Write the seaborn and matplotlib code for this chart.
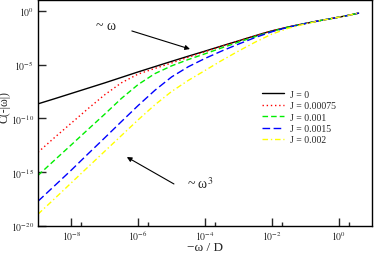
import numpy as np
import pandas as pd
import matplotlib
matplotlib.use("Agg")
import matplotlib.pyplot as plt
import seaborn as sns
from matplotlib.lines import Line2D

# log10(-omega/D) sample positions
log_omega = [-9, -8.5, -8, -7.5, -7, -6.5, -6, -5.5, -5, -4.5, -4, -3.5, -3,
             -2.5, -2, -1.5, -1, -0.5, 0, 0.3, 0.6]

# log10 C(-|omega|)
logC_J0 = [-8.65, -8.17, -7.68, -7.19, -6.70, -6.19, -5.68, -5.19, -4.70, -4.22,
           -3.75, -3.27, -2.80, -2.32, -1.87, -1.50, -1.18, -0.88, -0.60, -0.42, -0.22]
logC_J00075 = [-13.15, -11.77, -10.43, -9.09, -7.80, -6.69, -5.88, -5.36, -4.85, -4.32,
               -3.81, -3.30, -2.81, -2.32, -1.87, -1.50, -1.18, -0.88, -0.60, -0.42, -0.22]
logC_J001 = [-15.30, -13.87, -12.45, -11.02, -9.60, -8.14, -6.85, -5.84, -5.12, -4.53,
             -4.00, -3.45, -2.92, -2.41, -1.92, -1.52, -1.18, -0.88, -0.60, -0.42, -0.22]
logC_J0015 = [-17.70, -16.25, -14.80, -13.29, -11.80, -10.29, -8.80, -7.39, -6.15, -5.20,
              -4.43, -3.74, -3.10, -2.49, -1.95, -1.53, -1.19, -0.88, -0.60, -0.42, -0.22]
logC_J002 = [-18.90, -17.45, -15.98, -14.51, -13.05, -11.59, -10.13, -8.74, -7.50, -6.47,
             -5.55, -4.62, -3.75, -2.92, -2.17, -1.62, -1.22, -0.89, -0.60, -0.42, -0.22]

labels = ["J = 0", "J = 0.00075", "J = 0.001", "J = 0.0015", "J = 0.002"]
series = [logC_J0, logC_J00075, logC_J001, logC_J0015, logC_J002]
colors = ["#000000", "#ff0000", "#00ee00", "#0000ff", "#ffff00"]
dash_styles = ["", (1, 2), (4, 2.2), (5.5, 2.5), (4, 2, 1, 2)]

xtick_vals = [1e-8, 1e-6, 1e-4, 1e-2, 1e0]
xtick_labels = [r"$10^{-8}$", r"$10^{-6}$", r"$10^{-4}$", r"$10^{-2}$", r"$10^{0}$"]
ytick_vals = [1e0, 1e-5, 1e-10, 1e-15, 1e-20]
ytick_labels = [r"$10^{0}$", r"$10^{-5}$", r"$10^{-10}$", r"$10^{-15}$", r"$10^{-20}$"]

rows = []
for lab, ys in zip(labels, series):
    for lx, ly in zip(log_omega, ys):
        rows.append({"omega": 10.0 ** lx, "C": 10.0 ** ly, "J": lab})
df = pd.DataFrame(rows)

sns.set_style("ticks")
plt.rcParams["font.family"] = ["Liberation Serif", "DejaVu Serif"]
plt.rcParams["mathtext.fontset"] = "stix"

fig = plt.figure(figsize=(3.74, 2.55), dpi=100)
ax = fig.add_axes([38 / 374, 28 / 255, 334 / 374, 226 / 255])

sns.lineplot(data=df, x="omega", y="C", hue="J", style="J",
             hue_order=labels, style_order=labels,
             palette=dict(zip(labels, colors)),
             dashes=dict(zip(labels, dash_styles)),
             linewidth=1.0, ax=ax, legend=False, sort=False)

ax.set_xscale("log")
ax.set_yscale("log")
ax.set_xlim(1e-9, 1e1)
ax.set_ylim(1e-20, 1e1)

ax.set_xticks(xtick_vals)
ax.set_xticklabels(xtick_labels)
ax.set_xticks([2e-8, 2e-6, 2e-4, 2e-2, 2e0], minor=True)
ax.set_xticklabels([], minor=True)
ax.set_yticks(ytick_vals)
ax.set_yticklabels(ytick_labels)
ax.yaxis.set_minor_locator(matplotlib.ticker.NullLocator())

ax.tick_params(axis="both", which="major", direction="in", length=6, width=1,
               labelsize=7, pad=3, top=False, right=False)
ax.tick_params(axis="x", which="major", pad=2)
ax.tick_params(axis="x", which="minor", direction="in", length=3, width=1,
               top=False)
for sp in ax.spines.values():
    sp.set_linewidth(1.0)
    sp.set_color("black")

ax.set_xlabel("\u2212\u03c9 / D", fontsize=9.5)
ax.xaxis.set_label_coords(0.5, -0.068)
ax.set_ylabel("C(-|\u03c9|)", fontsize=8.5)
ax.yaxis.set_label_coords(-0.082, 0.53)

handles = []
for lab, c, d in zip(labels, colors, dash_styles):
    h = Line2D([], [], color=c, linewidth=1.0)
    if d:
        h.set_dashes(d)
    handles.append(h)
ax.legend(handles, labels, loc="upper left", bbox_to_anchor=(0.66, 0.62),
          frameon=False, fontsize=7, handlelength=2.2, handletextpad=0.6,
          labelspacing=0.25, borderaxespad=0)

ax.annotate("", xy=(0.455, 0.783), xytext=(0.281, 0.863),
            xycoords="axes fraction", textcoords="axes fraction",
            arrowprops=dict(arrowstyle="-|>", color="black", lw=0.8,
                            mutation_scale=7, shrinkA=0, shrinkB=0))
ax.text(0.204, 0.889, "~ \u03c9", transform=ax.transAxes, fontsize=10,
        ha="center", va="center")
ax.annotate("", xy=(0.266, 0.305), xytext=(0.407, 0.186),
            xycoords="axes fraction", textcoords="axes fraction",
            arrowprops=dict(arrowstyle="-|>", color="black", lw=0.8,
                            mutation_scale=7, shrinkA=0, shrinkB=0))
ax.text(0.485, 0.19, "~ \u03c9$^{3}$", transform=ax.transAxes, fontsize=10,
        ha="center", va="center")

fig.savefig("out.png", dpi=100)
